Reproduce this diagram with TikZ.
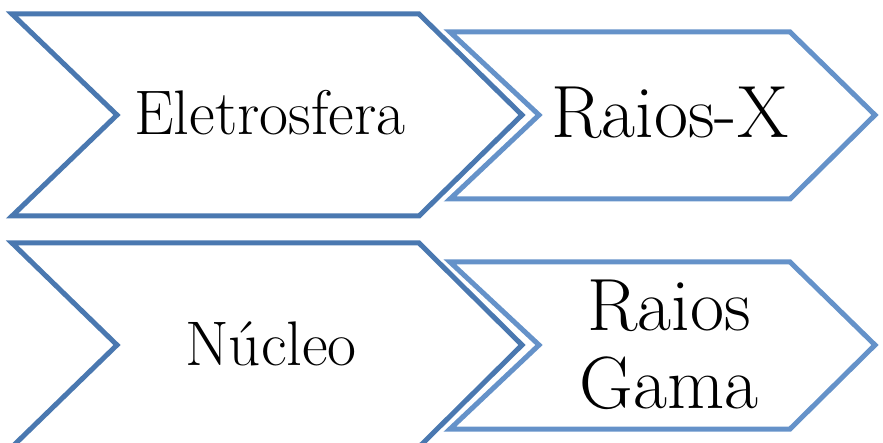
\documentclass[tikz,border=0pt]{standalone}
\usepackage{tikz}
\definecolor{chevdark}{HTML}{4A78B0}
\definecolor{chevlight}{HTML}{6592C9}

\begin{document}
\begin{tikzpicture}[x=1pt, y=-1pt, line join=miter, line width=5pt]
\tikzstyle{outer chevron}=[draw=chevdark]
\tikzstyle{inner chevron}=[draw=chevlight]
\tikzstyle{small label}=[anchor=base, inner sep=0pt, font=\fontsize{63}{70}\selectfont]
\tikzstyle{big label}=[anchor=base, inner sep=0pt, align=center, font=\fontsize{74}{78}\selectfont]
\useasboundingbox (0,0) rectangle (883,443);
% upper row
\draw[outer chevron] (12,14) -- (419,14) -- (522,115) -- (419,216) -- (12,216) -- (117,115) -- cycle;
\draw[inner chevron] (450,32) -- (790,32) -- (875,115) -- (790,199) -- (450,199) -- (539,115) -- cycle;
% lower row
\draw[outer chevron] (12,243) -- (419,243) -- (522,345) -- (419,447) -- (12,447) -- (117,345) -- cycle;
\draw[inner chevron] (450,262) -- (790,262) -- (875,345) -- (790,429) -- (450,429) -- (539,345) -- cycle;
% labels
\node[small label] (eletro) at (270,135) {Eletrosfera};
\node[big label]   (raiosx) at (670,138) {Raios-X};
\node[small label] (nucleo) at (271,365) {Núcleo};
\node[big label]   (gama)   at (669,408) {Raios\\Gama};
\end{tikzpicture}
\end{document}
